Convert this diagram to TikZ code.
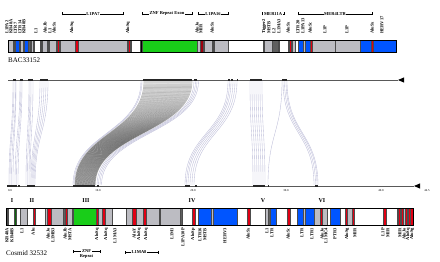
\documentclass[tikz,border=0pt]{standalone}
\usepackage{fontspec}
\setmainfont{Liberation Serif}
\usetikzlibrary{arrows.meta}

\definecolor{rgray}{RGB}{188,188,194}
\definecolor{rdark}{RGB}{95,95,95}
\definecolor{rblue}{RGB}{0,85,255}
\definecolor{rgreen}{RGB}{25,205,25}
\definecolor{rred}{RGB}{225,0,20}
\definecolor{rlink}{RGB}{170,170,205}

\begin{document}
\begin{tikzpicture}[
  x=1pt, y=-1pt,
  seg/.style={fill=#1, draw=black!70, line width=0.3pt},
  frame/.style={draw=black, line width=0.8pt},
  toplbl/.style={rotate=90, anchor=west, inner sep=0pt, font=\fontsize{4.5}{4.5}\selectfont\bfseries},
  botlbl/.style={rotate=90, anchor=east, inner sep=0pt, font=\fontsize{4.5}{4.5}\selectfont\bfseries},
  brk/.style={{Bar[width=3pt]}-{Bar[width=3pt]}, line width=0.4pt},
  brklbl/.style={fill=white, inner sep=0.6pt, font=\fontsize{4.5}{4.5}\selectfont\bfseries},
  roman/.style={font=\fontsize{6}{6}\selectfont\bfseries},
  axis/.style={draw=black!65, line width=0.7pt},
  hit/.style={fill=black!85},
  link/.style={draw=rlink, line width=0.35pt, opacity=0.8},
  core/.style={draw=black, line width=0.7pt, opacity=0.26},
  tick/.style={font=\fontsize{3}{3}\selectfont, inner sep=0pt},
  clonename/.style={font=\fontsize{7}{7}\selectfont, inner sep=0pt, anchor=west},
]
\useasboundingbox (0,0) rectangle (440,262);

%% --- Top clone BAC33152 ---
\draw[seg=rgray] (8,40) rectangle (396,52);
\foreach \a/\b/\c in {13/14.5/rgreen!55!black, 15/19/rblue, 20/23/rgray, 24/28/rblue,
    28/30/rdark, 31/33/rgray, 34/40/white, 40/41.5/black, 42/47/rgray, 47/48.5/rdark,
    49/56/rgray, 57/59/rred, 60/75/rgray, 75/78/rred, 127/128/rdark, 128/130.5/rred,
    131/140/white, 140/142/black, 142/197/rgreen, 197/200/rgray, 200/203/rred!70!black,
    204/212/rgray, 212/213.5/rred, 214/228/rgray, 228/263/white, 264/272/rgray,
    272/278/rdark, 279/288/white, 289/291/rred, 292/295/rgray, 295/298/white,
    298/303/rblue, 303/305/rgray, 305/310/rblue, 310/312/rred, 312/335/rgray,
    335/360/rgray, 360/371/rblue, 371/373/rred, 373/396/rblue}
  \draw[seg=\c] (\a,40) rectangle (\b,52);
\draw[frame] (8,40) rectangle (396,52);
\node[clonename] (bac) at (8,60) {BAC33152};

%% --- Top labels ---
\foreach \x/\t in {7/L1PA2, 11/KR48A, 15.5/LTR7, 20/LTR14, 24/KR48B, 36/L1, 45/AluJb,
    50/L1, 54/AluSx, 72/AluSq, 128/AluSq, 197/AluJo, 201/MIR, 212/AluSx,
    264/Tigger2, 269/MSTB, 274/L2, 279/L1MA3, 288/AluSx, 298/LTR20, 303/L1PA13,
    310/AluSc, 325/L1P, 347/L1P, 372/AluSx, 382/HERV17}
  \node[toplbl] at (\x,34) {\t};

%% --- Top brackets ---
\draw[brk] (62,14) -- (123,14);   \node[brklbl] at (93,14) {L1PA7};
\draw[brk] (142,14) -- (192,14);  \node[brklbl] at (167,14) {ZNF Repeat Exon};
\draw[brk] (198,14) -- (228,14);  \node[brklbl] at (213,14) {L1PA16};
\draw[brk] (262,14) -- (284,14);  \node[brklbl] at (273,14) {MER11A};
\draw[brk] (298,14) -- (372,14);  \node[brklbl] at (335,14) {MER4LTR};

%% --- Axes ---
\coordinate (t0) at (8,80);   \coordinate (t1) at (398,80);
\coordinate (b0) at (8,186);  \coordinate (b1) at (414,186);
\draw[axis] (t0) -- (t1);
\draw[axis] (b0) -- (b1);
\fill[black] (t1) -- ++(6,-2.6) -- ++(0,5.2) -- cycle;
\fill[black] (b1) -- ++(6,-2.6) -- ++(0,5.2) -- cycle;

%% --- Matches between the two clones ---
\foreach \t/\b in {13/9, 14/10, 15.5/11.5, 16/13, 20/15, 21/16.5, 22/18, 29/26,
    30/27.5, 31/29, 33/30, 40/31, 42/32, 44/33, 46/34, 48/35, 141/73, 142/74,
    194/97, 195.5/98.5, 197/100, 198.5/101.5,
    228/185, 229.5/186.5, 231/188, 233/190, 235/192, 237/194,
    250/253, 252/255, 254/257, 256/259, 258/261, 260/263, 262/265, 282/268,
    283/314, 284.5/315.5, 286/317, 287/318}
  \draw[link] (\t,81) .. controls (\t,133) and (\b,133) .. (\b,185);
\foreach \i in {0,...,48}
  \draw[core] ({144+1*\i},81) .. controls ({144+1*\i},133)
    and ({75+0.42*\i},133) .. ({75+0.42*\i},185);

%% --- Hits on axes ---
\foreach \a/\b in {13/16, 20/22.5, 28/33, 40/48, 143/192, 194/197, 228/230, 231/233,
    236.5/238, 250/262, 282/287}
  \fill[hit] (\a,78.8) rectangle (\b,81.4);
\foreach \a/\b in {7/17, 18/20, 27/35, 73/95, 97/99, 185/190, 195/197, 253/265,
    267.5/269, 315/318}
  \fill[hit] (\a,184.8) rectangle (\b,187.4);
\foreach \x/\t in {10/0.0, 98/10.0, 193/20.0, 286/30.0, 381/40.0, 427/44.5}
  \node[tick] at (\x,191) {\t};

%% --- Regions I--VI ---
\foreach \x/\t in {12/I, 32/II, 86/III, 192/IV, 263/V, 322/VI}
  \node[roman] at (\x,201) {\t};

%% --- Bottom clone Cosmid 32532 ---
\draw[seg=rgray] (6,208) rectangle (413,225);
\foreach \a/\b/\c in {7/8/rgreen!50!black, 8/14/white, 14.5/16/rgreen!50!black,
    16/20/white, 20/27/rgray, 27/33/white, 33.5/35/rred, 35/45/white, 45/47/rgray,
    47/51/rred, 51/63/rgray, 63/65/rdark, 65/67/rred, 67/72/rgray, 73/96/rgreen,
    96/98/rred, 98/102/rgray, 102/105/rred, 105/112/rgray, 112/126/white,
    126/132/rgray, 132/136/rred, 136/143/rgray, 143/146/rred, 146/159/rgray,
    160/180/rgray, 180/182/rdark, 182/192/white, 192/195/rred, 195/198/white,
    198/211/rblue, 211/213/rgray, 213/237/rblue, 237/247/white, 247/250/rred,
    250/265/white, 265/268/rgray, 268/270/rdark, 270/276/rblue, 276/287/white,
    287/290/rred, 290/297/white, 297/303/rblue, 303/305/rgray, 305/314/rblue,
    314/320/rgray, 320/322/rred, 322/327/rgray, 327/330/white, 330/340/rblue,
    340/345/white, 345/347/rred, 347/352/rgray, 352/354/rred, 354/383/white,
    383/386/rred, 386/397/white, 398/400/rred, 400/401.5/rgray, 401.5/403.5/rred,
    403.5/405/rgray, 405/407/rred, 407/408.5/rgray, 408.5/410.5/rred, 410.5/413/rred}
  \draw[seg=\c] (\a,208) rectangle (\b,225);
\draw[frame] (6,208) rectangle (413,225);
\node[clonename] (cosmid) at (6,253) {Cosmid 32532};

%% --- Bottom labels ---
\foreach \x/\t in {7/KR48A, 12/KR48B, 22/L1, 33/Alu, 48/AluJo, 53/L1MB3, 65/AluJb,
    70/MSTA, 97/AluSq, 106/AluSq, 115/L1MA3, 134/AluY, 139/AluSq, 146/AluSq,
    172/L1M1, 183/L1PA10P, 193/AluSp, 200/LTR16, 205/MSTB, 225/HERV3, 248/AluSx,
    267/L1, 272/LTR, 288/AluSc, 302/LTR, 312/LTR1, 322/AluJo, 326/L1MC4,
    335/PTR3, 347/AluSg, 355/MIR, 383/L1P, 388/MIR, 400/MIR, 404/AluJo,
    408/AluSq, 412/AluSg}
  \node[botlbl] at (\x,228) {\t};

%% --- Bottom brackets ---
\draw[brk] (73,251.5) -- (100,251.5);   \node[brklbl] at (86.5,251.5) {ZNF};
\node[brklbl, fill=none] at (86.5,256.5) {Repeat};
\draw[brk] (125,252) -- (158,252);      \node[brklbl] at (139,252) {L1MA8};

\end{tikzpicture}
\end{document}
